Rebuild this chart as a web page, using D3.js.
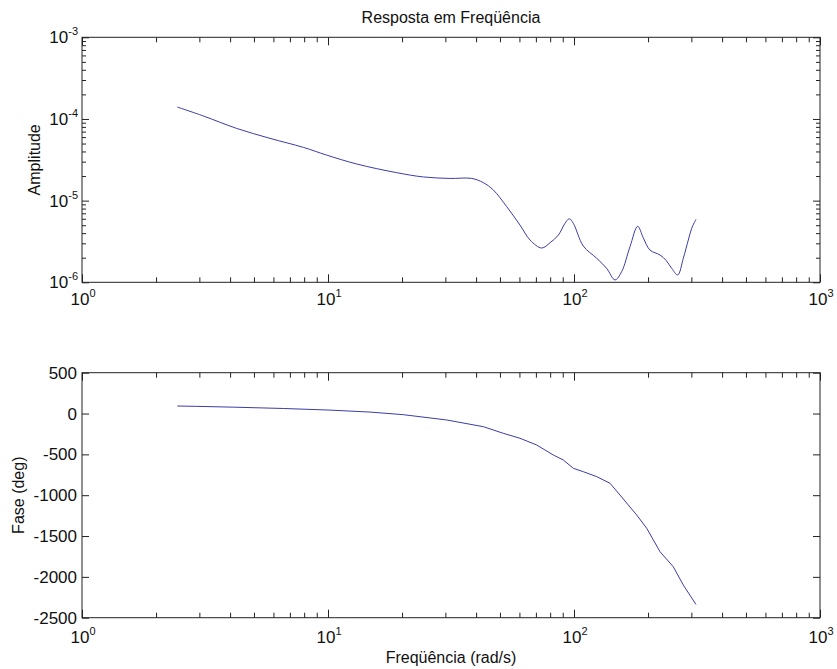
<!DOCTYPE html>
<html>
<head>
<meta charset="utf-8">
<script src="https://cdn.jsdelivr.net/npm/d3@7"></script>
<style>
  html, body { margin: 0; padding: 0; background: #fff; }
  svg { display: block; font-family: "Liberation Sans", Arial, sans-serif; }
  .lbl { fill: #111; font-size: 16px; }
  .tk { fill: #111; font-size: 17px; }
</style>
</head>
<body>
<svg id="chart" width="837" height="669"></svg>
<script>
/* amplitude plot (log-log) */
var ampFreq = [2.44, 3.11, 4.25, 5.81, 7.94, 9.88, 13.08, 19.02, 24.4, 31.3,
               38.4, 42.8, 47.0, 53.3, 60.3, 66.3, 73.9, 79.9, 86.4, 91.9,
               95.7, 99.4, 109.1, 123.7, 135.8, 146.8, 156.2, 168.9, 181.5, 191.3,
               203.7, 223.7, 237, 249.6, 264, 278.2, 291.5, 300.9, 313.2];
var ampValue = [1.40e-4, 1.09e-4, 7.67e-5, 5.79e-5, 4.49e-5, 3.61e-5, 2.81e-5, 2.20e-5, 1.95e-5, 1.87e-5,
                1.87e-5, 1.66e-5, 1.35e-5, 8.42e-6, 5.03e-6, 3.29e-6, 2.63e-6, 3.05e-6, 3.79e-6, 5.27e-6,
                6.0e-6, 5.27e-6, 2.78e-6, 1.97e-6, 1.48e-6, 1.07e-6, 1.35e-6, 2.73e-6, 4.85e-6, 3.5e-6,
                2.48e-6, 2.16e-6, 1.85e-6, 1.48e-6, 1.23e-6, 1.97e-6, 3.29e-6, 4.58e-6, 5.90e-6];

/* phase plot */
var phaseFreq = [2.44, 2.93, 4.12, 6.58, 10.19, 14.82, 20.24, 30.4, 42.8, 51.6,
                 60.3, 70.5, 82.4, 90.5, 99.4, 109.1, 123.7, 140.1, 153.8, 179.8,
                 197.5, 223.7, 253.3, 278.2, 313.2];
var phaseValue = [92, 88, 78, 62, 42, 18, -14, -79, -161, -242,
                  -303, -385, -508, -569, -671, -712, -773, -854, -998, -1242,
                  -1405, -1692, -1876, -2100, -2338];

/* ticks */
var freqTickExp = [0, 1, 2, 3];
var ampTickExp = [-6, -5, -4, -3];
var phaseTicks = [500, 0, -500, -1000, -1500, -2000, -2500];

var title = "Resposta em Freqüência";
var ampLabel = "Amplitude";
var phaseLabel = "Fase (deg)";
var freqLabel = "Freqüência (rad/s)";

var LEFT = 82, RIGHT = 820;
var TOP1 = 37.3, BOT1 = 282.3;
var TOP2 = 372.7, BOT2 = 617.7;
var LINE = "#3c3ca8";

var svg = d3.select("#chart");

var x = d3.scaleLog().domain([1, 1000]).range([LEFT, RIGHT]);
var yAmp = d3.scaleLog().domain([1e-6, 1e-3]).range([BOT1, TOP1]);
var yPh = d3.scaleLinear().domain([-2500, 500]).range([BOT2, TOP2]);

function minorTicks(lo, hi) {
    var out = [];
    for (var e = lo; e < hi; e++) {
        for (var m = 2; m <= 9; m++) out.push(m * Math.pow(10, e));
    }
    return out;
}

// ticks drawn inward, no domain line (frame drawn separately)
function drawAxis(gen, tx, ty, vals, size) {
    var g = svg.append("g")
        .attr("transform", "translate(" + tx + "," + ty + ")")
        .call(gen.tickValues(vals).tickSize(-size).tickSizeOuter(0).tickFormat(""));
    g.select(".domain").remove();
    g.selectAll(".tick line").attr("stroke", "#222");
}

function frame(top, bot) {
    svg.append("rect")
        .attr("x", LEFT).attr("y", top)
        .attr("width", RIGHT - LEFT).attr("height", bot - top)
        .attr("fill", "none").attr("stroke", "#222").attr("stroke-width", 1);
}

function powLabel(px, py, exp, anchor) {
    var t = svg.append("text").attr("class", "tk")
        .attr("x", px).attr("y", py).attr("text-anchor", anchor);
    t.append("tspan").text("10");
    t.append("tspan").attr("dy", -8).attr("font-size", 11).text(exp);
}

var freqMajor = freqTickExp.map(function (e) { return Math.pow(10, e); });
var freqMinor = minorTicks(0, 3);

/* top plot */
frame(TOP1, BOT1);
drawAxis(d3.axisBottom(x), 0, BOT1, freqMajor, 8);
drawAxis(d3.axisBottom(x), 0, BOT1, freqMinor, 5);
drawAxis(d3.axisTop(x), 0, TOP1, freqMajor, 8);
drawAxis(d3.axisTop(x), 0, TOP1, freqMinor, 5);
var ampMajor = ampTickExp.map(function (e) { return Math.pow(10, e); });
var ampMinor = minorTicks(-6, -3);
drawAxis(d3.axisLeft(yAmp), LEFT, 0, ampMajor, 7);
drawAxis(d3.axisLeft(yAmp), LEFT, 0, ampMinor, 4);
drawAxis(d3.axisRight(yAmp), RIGHT, 0, ampMajor, 7);
drawAxis(d3.axisRight(yAmp), RIGHT, 0, ampMinor, 4);

ampTickExp.forEach(function (e) {
    powLabel(LEFT - 4, yAmp(Math.pow(10, e)) + 6, e, "end");
});
freqTickExp.forEach(function (e) {
    powLabel(x(Math.pow(10, e)) + 1, BOT1 + 23, e, "middle");
});

svg.append("path")
    .datum(d3.zip(ampFreq, ampValue))
    .attr("fill", "none").attr("stroke", LINE).attr("stroke-width", 1)
    .attr("d", d3.line()
        .x(function (d) { return x(d[0]); })
        .y(function (d) { return yAmp(d[1]); })
        .curve(d3.curveCatmullRom.alpha(0.5)));

/* bottom plot */
frame(TOP2, BOT2);
drawAxis(d3.axisBottom(x), 0, BOT2, freqMajor, 8);
drawAxis(d3.axisBottom(x), 0, BOT2, freqMinor, 5);
drawAxis(d3.axisTop(x), 0, TOP2, freqMajor, 8);
drawAxis(d3.axisTop(x), 0, TOP2, freqMinor, 5);
drawAxis(d3.axisLeft(yPh), LEFT, 0, phaseTicks, 7);
drawAxis(d3.axisRight(yPh), RIGHT, 0, phaseTicks, 7);

phaseTicks.forEach(function (v) {
    svg.append("text").attr("class", "tk")
        .attr("x", LEFT - 5).attr("y", yPh(v) + 6)
        .attr("text-anchor", "end")
        .text(v);
});
freqTickExp.forEach(function (e) {
    powLabel(x(Math.pow(10, e)) + 1, BOT2 + 25, e, "middle");
});

svg.append("path")
    .datum(d3.zip(phaseFreq, phaseValue))
    .attr("fill", "none").attr("stroke", LINE).attr("stroke-width", 1)
    .attr("d", d3.line()
        .x(function (d) { return x(d[0]); })
        .y(function (d) { return yPh(d[1]); }));

/* titles */
svg.append("text").attr("class", "lbl")
    .attr("x", (LEFT + RIGHT) / 2).attr("y", 23)
    .attr("text-anchor", "middle").text(title);
svg.append("text").attr("class", "lbl")
    .attr("transform", "translate(40," + (TOP1 + BOT1) / 2 + ") rotate(-90)")
    .attr("text-anchor", "middle").text(ampLabel);
svg.append("text").attr("class", "lbl")
    .attr("transform", "translate(24," + (TOP2 + BOT2) / 2 + ") rotate(-90)")
    .attr("text-anchor", "middle").text(phaseLabel);
svg.append("text").attr("class", "lbl")
    .attr("x", (LEFT + RIGHT) / 2).attr("y", 663)
    .attr("text-anchor", "middle").text(freqLabel);
</script>
</body>
</html>
